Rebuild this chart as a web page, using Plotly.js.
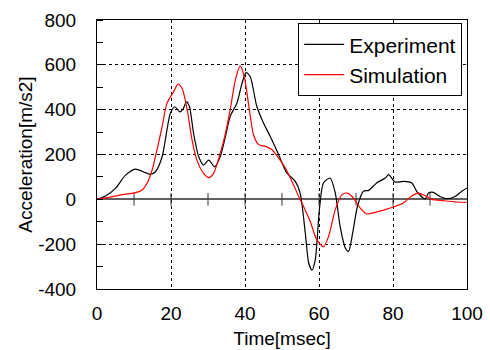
<!DOCTYPE html>
<html><head><meta charset="utf-8">
<script src="https://cdn.plot.ly/plotly-3.0.1.min.js"></script>
<style>html,body{margin:0;padding:0;background:#fff}#c{width:490px;height:350px}</style>
</head><body><div id="c"></div>
<script>
const expT = [0, 2.3, 5, 7.7, 10.4, 13.1, 14.4, 15.8, 17.6, 18.9, 19.8, 21, 22.4, 23.2, 24.2, 25, 26.1, 27.5, 28.8, 30.2, 31.8, 33.3, 34.7, 36, 37.8, 39.2, 40.3, 41.4, 43.2, 45, 46.8, 49.1, 51.3, 53.6, 54.9, 56.3, 57.2, 58.1, 59, 60.1, 61.2, 63, 64.4, 65.7, 67.1, 68, 69.1, 70.4, 72, 73.4, 75.6, 77.9, 78.8, 80.6, 82.8, 85.1, 86.4, 88.7, 89.6, 90.9, 92.7, 94.5, 96.8, 98.6, 100];
const expA = [0, 15, 49, 108, 135, 119, 111, 123, 190, 309, 383, 413, 390, 401, 435, 413, 294, 190, 153, 175, 145, 190, 279, 370, 429, 518, 566, 548, 414, 340, 281, 199, 118, 80, 28, -150, -283, -316, -269, -46, 73, 95, 28, -120, -217, -232, -150, -31, 36, 40, 73, 95, 110, 77, 80, 73, 36, 2, 28, 31, 13, 3, 13, 36, 51];
const simT = [0, 3.2, 6.8, 10.4, 12.2, 13.5, 14.9, 16.2, 17.6, 18.9, 20.7, 21.9, 23, 24.4, 25.7, 27, 28.8, 30.2, 31.5, 33.3, 34.5, 36, 37.4, 38.7, 39.8, 41, 42.3, 43.7, 45.5, 47.3, 49.1, 50.9, 52.7, 54.5, 55.8, 57.6, 59.4, 61.2, 62.6, 64.4, 66.2, 67.7, 69.3, 71.1, 72.9, 75.2, 77.9, 80.1, 82.8, 85.1, 86.9, 88.7, 90.5, 93.6, 97.2, 100];
const simA = [0, 9, 21, 30, 42, 71, 131, 220, 324, 428, 480, 514, 494, 398, 264, 175, 116, 97, 116, 205, 279, 400, 533, 595, 548, 420, 288, 244, 236, 221, 184, 140, 80, 13, -31, -98, -180, -212, -165, -46, 21, 28, 6, -38, -65, -58, -46, -34, -16, 16, 28, 16, 0, -6, -12, -13];
const zeroTickX = [10, 20, 30, 40, 50, 60, 70, 80, 90];
const xTicks = [0, 20, 40, 60, 80, 100];
const yTicks = [-400, -200, 0, 200, 400, 600, 800];

const F = 'Liberation Sans, Arial, sans-serif';
const traces = [
  {x: zeroTickX, y: zeroTickX.map(() => 0), mode: 'markers', showlegend: false, hoverinfo: 'skip',
   marker: {symbol: 'line-ns-open', size: 9, color: '#333', line: {color: '#333', width: 1}}},
  {x: expT, y: expA, name: 'Experiment', mode: 'lines',
   line: {color: '#000', width: 1.2, shape: 'spline', smoothing: 0.7}},
  {x: simT, y: simA, name: 'Simulation', mode: 'lines',
   line: {color: '#ff0000', width: 1.2, shape: 'spline', smoothing: 0.7}}
];
const layout = {
  width: 490, height: 350,
  margin: {l: 96.5, r: 23, t: 20, b: 60.5},
  paper_bgcolor: '#fff', plot_bgcolor: '#fff',
  font: {family: F, size: 19, color: '#000'},
  showlegend: true,
  legend: {x: 0.987, y: 0.988, xanchor: 'right', yanchor: 'top', itemwidth: 40,
    bgcolor: '#fff', bordercolor: '#000', borderwidth: 1,
    font: {family: F, size: 21, color: '#000'}},
  xaxis: {range: [0, 100], tickvals: xTicks, ticktext: xTicks.map(String),
    showgrid: true, gridcolor: '#000', griddash: 'dot', gridwidth: 1,
    zeroline: false, showline: true, linecolor: '#000', linewidth: 1, mirror: true,
    ticks: '', ticklabelstandoff: 7,
    title: {text: 'Time[msec]', font: {family: F, size: 19}, standoff: 8}},
  yaxis: {range: [-400, 800], tickvals: yTicks, ticktext: yTicks.map(String),
    showgrid: true, gridcolor: '#000', griddash: 'dot', gridwidth: 1,
    zeroline: true, zerolinecolor: '#606060', zerolinewidth: 2,
    showline: true, linecolor: '#000', linewidth: 1, mirror: true,
    ticks: '', ticklabelstandoff: 16,
    minor: {dtick: 100, tick0: 0, ticks: 'inside', ticklen: 6, tickcolor: '#000', showgrid: false},
    title: {text: 'Acceleration[m/s2]', font: {family: F, size: 19}, standoff: 0}}
};
Plotly.newPlot('c', traces, layout, {staticPlot: true, displayModeBar: false});
</script></body></html>
